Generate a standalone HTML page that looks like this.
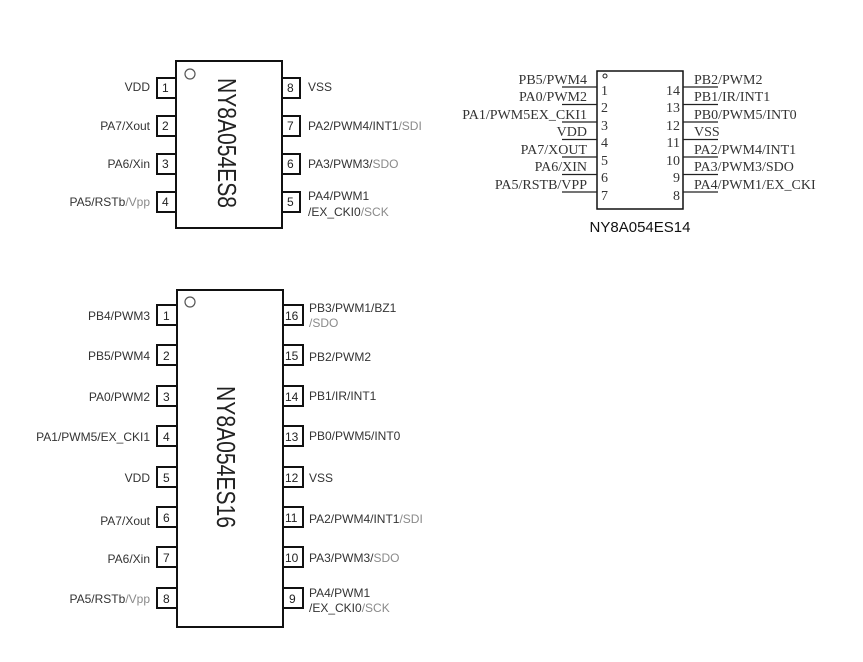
<!DOCTYPE html>
<html><head><meta charset="utf-8"><style>
html,body{margin:0;padding:0;background:#fff;}
svg{display:block;}
.s{font-family:"Liberation Sans",Arial,sans-serif;font-size:12px;fill:#333;}
.g{fill:#8a8a8a;}
.n{font-family:"Liberation Sans",Arial,sans-serif;font-size:12px;fill:#222;}
.f{font-family:"Liberation Serif","DejaVu Serif",serif;font-size:14px;fill:#333;}
</style></head><body>
<svg width="863" height="662" viewBox="0 0 863 662" xmlns="http://www.w3.org/2000/svg">
<g stroke="#111" stroke-width="2" fill="none">
<rect x="176" y="61" width="106" height="167"/>
<rect x="157" y="78" width="19" height="20"/>
<rect x="157" y="116" width="19" height="20"/>
<rect x="157" y="154" width="19" height="20"/>
<rect x="157" y="192" width="19" height="20"/>
<rect x="282" y="78" width="18" height="20"/>
<rect x="282" y="116" width="18" height="20"/>
<rect x="282" y="154" width="18" height="20"/>
<rect x="282" y="192" width="18" height="20"/>
<rect x="177" y="290" width="106" height="337"/>
</g>
<g stroke="#111" stroke-width="2" fill="none">
<rect x="157" y="305" width="20" height="20"/><rect x="157" y="345" width="20" height="20"/>
<rect x="157" y="386" width="20" height="20"/><rect x="157" y="426" width="20" height="20"/>
<rect x="157" y="467" width="20" height="20"/><rect x="157" y="507" width="20" height="20"/>
<rect x="157" y="547" width="20" height="20"/><rect x="157" y="588" width="20" height="20"/>
<rect x="283" y="305" width="20" height="20"/><rect x="283" y="345" width="20" height="20"/>
<rect x="283" y="386" width="20" height="20"/><rect x="283" y="426" width="20" height="20"/>
<rect x="283" y="467" width="20" height="20"/><rect x="283" y="507" width="20" height="20"/>
<rect x="283" y="547" width="20" height="20"/><rect x="283" y="588" width="20" height="20"/>
</g>
<circle cx="190" cy="74" r="5" stroke="#555" stroke-width="1.2" fill="none"/>
<circle cx="190" cy="302" r="5" stroke="#555" stroke-width="1.2" fill="none"/>
<text class="n" x="162" y="92">1</text><text class="n" x="162" y="130">2</text>
<text class="n" x="162" y="168">3</text><text class="n" x="162" y="206">4</text>
<text class="n" x="287" y="92">8</text><text class="n" x="287" y="130">7</text>
<text class="n" x="287" y="168">6</text><text class="n" x="287" y="206">5</text>
<g class="s" text-anchor="end">
<text x="150" y="91">VDD</text>
<text x="150" y="130">PA7/Xout</text>
<text x="150" y="168">PA6/Xin</text>
<text x="150" y="206">PA5/RSTb<tspan class="g">/Vpp</tspan></text>
</g>
<g class="s">
<text x="308" y="91">VSS</text>
<text x="308" y="130">PA2/PWM4/INT1<tspan class="g">/SDI</tspan></text>
<text x="308" y="168">PA3/PWM3/<tspan class="g">SDO</tspan></text>
<text x="308" y="200">PA4/PWM1</text>
<text x="308" y="216">/EX_CKI0<tspan class="g">/SCK</tspan></text>
</g>
<text transform="translate(218,78) rotate(90)" font-family="Liberation Sans,Arial,sans-serif" font-size="26" fill="#222" textLength="130" lengthAdjust="spacingAndGlyphs">NY8A054ES8</text>
<g class="n">
<text x="163" y="320">1</text><text x="163" y="360">2</text><text x="163" y="401">3</text><text x="163" y="441">4</text>
<text x="163" y="482">5</text><text x="163" y="522">6</text><text x="163" y="562">7</text><text x="163" y="603">8</text>
<text x="285" y="320">16</text><text x="285" y="360">15</text><text x="285" y="401">14</text><text x="285" y="441">13</text>
<text x="285" y="482">12</text><text x="285" y="522">11</text><text x="285" y="562">10</text><text x="289" y="603">9</text>
</g>
<g class="s" text-anchor="end">
<text x="150" y="320">PB4/PWM3</text>
<text x="150" y="360">PB5/PWM4</text>
<text x="150" y="401">PA0/PWM2</text>
<text x="150" y="441">PA1/PWM5/EX_CKI1</text>
<text x="150" y="482">VDD</text>
<text x="150" y="525">PA7/Xout</text>
<text x="150" y="563">PA6/Xin</text>
<text x="150" y="603">PA5/RSTb<tspan class="g">/Vpp</tspan></text>
</g>
<g class="s">
<text x="309" y="312">PB3/PWM1/BZ1</text>
<text x="309" y="327" class="s g">/SDO</text>
<text x="309" y="361">PB2/PWM2</text>
<text x="309" y="400">PB1/IR/INT1</text>
<text x="309" y="440">PB0/PWM5/INT0</text>
<text x="309" y="482">VSS</text>
<text x="309" y="523">PA2/PWM4/INT1<tspan class="g">/SDI</tspan></text>
<text x="309" y="562">PA3/PWM3/<tspan class="g">SDO</tspan></text>
<text x="309" y="597">PA4/PWM1</text>
<text x="309" y="612">/EX_CKI0<tspan class="g">/SCK</tspan></text>
</g>
<text transform="translate(217,386) rotate(90)" font-family="Liberation Sans,Arial,sans-serif" font-size="26" fill="#222" textLength="142" lengthAdjust="spacingAndGlyphs">NY8A054ES16</text>
<rect x="597" y="71" width="86" height="138" stroke="#111" stroke-width="1.5" fill="none"/>
<circle cx="605" cy="76" r="2" stroke="#222" stroke-width="1" fill="none"/>
<g stroke="#222" stroke-width="1.2">
<line x1="562" y1="87" x2="597" y2="87"/><line x1="562" y1="104.5" x2="597" y2="104.5"/>
<line x1="562" y1="122" x2="597" y2="122"/><line x1="562" y1="139.5" x2="597" y2="139.5"/>
<line x1="562" y1="157" x2="597" y2="157"/><line x1="562" y1="174.5" x2="597" y2="174.5"/>
<line x1="562" y1="192" x2="597" y2="192"/>
<line x1="683" y1="87" x2="718" y2="87"/><line x1="683" y1="104.5" x2="718" y2="104.5"/>
<line x1="683" y1="122" x2="718" y2="122"/><line x1="683" y1="139.5" x2="718" y2="139.5"/>
<line x1="683" y1="157" x2="718" y2="157"/><line x1="683" y1="174.5" x2="718" y2="174.5"/>
<line x1="683" y1="192" x2="718" y2="192"/>
</g>
<g class="f">
<text x="601" y="95">1</text><text x="601" y="112">2</text><text x="601" y="130">3</text><text x="601" y="147">4</text>
<text x="601" y="165">5</text><text x="601" y="182">6</text><text x="601" y="200">7</text>
</g>
<g class="f" text-anchor="end">
<text x="680" y="95">14</text><text x="680" y="112">13</text><text x="680" y="130">12</text><text x="680" y="147">11</text>
<text x="680" y="165">10</text><text x="680" y="182">9</text><text x="680" y="200">8</text>
</g>
<g class="f" text-anchor="end">
<text x="587" y="84">PB5/PWM4</text>
<text x="587" y="101">PA0/PWM2</text>
<text x="587" y="119">PA1/PWM5EX_CKI1</text>
<text x="587" y="136">VDD</text>
<text x="587" y="154">PA7/XOUT</text>
<text x="587" y="171">PA6/XIN</text>
<text x="587" y="189">PA5/RSTB/VPP</text>
</g>
<g class="f">
<text x="694" y="84">PB2/PWM2</text>
<text x="694" y="101">PB1/IR/INT1</text>
<text x="694" y="119">PB0/PWM5/INT0</text>
<text x="694" y="136">VSS</text>
<text x="694" y="154">PA2/PWM4/INT1</text>
<text x="694" y="171">PA3/PWM3/SDO</text>
<text x="694" y="189">PA4/PWM1/EX_CKI</text>
</g>
<text x="640" y="232" text-anchor="middle" font-family="Liberation Sans,Arial,sans-serif" font-size="15" fill="#111">NY8A054ES14</text>
</svg>
</body></html>
